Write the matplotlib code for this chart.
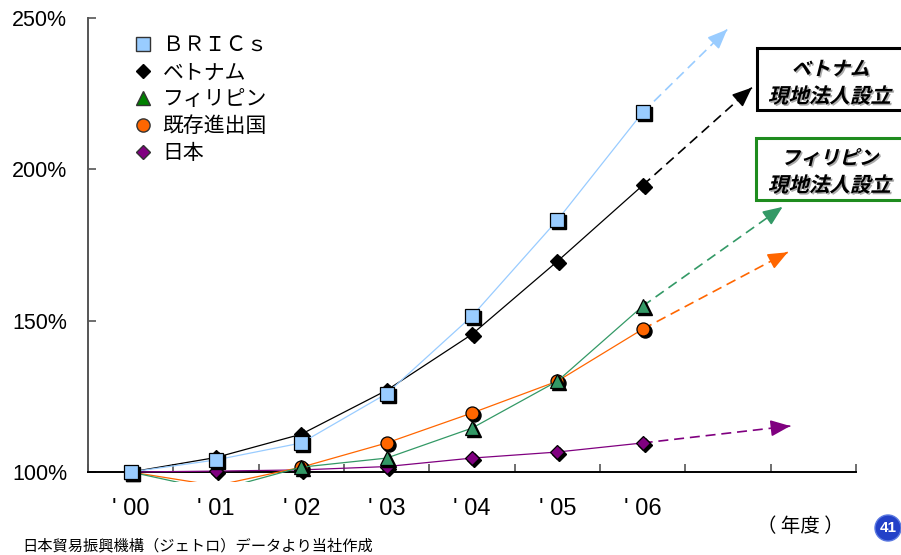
import matplotlib
matplotlib.use('Agg')
import matplotlib.pyplot as plt
from matplotlib.lines import Line2D
from matplotlib.patches import PathPatch, Rectangle, Circle
from matplotlib.textpath import TextPath
from matplotlib.font_manager import FontProperties
from matplotlib.transforms import Affine2D, ScaledTranslation

# fiscal years and growth index (2000 = 100%)
years = ["' 00", "' 01", "' 02", "' 03", "' 04", "' 05", "' 06"]
bric = [100, 104.0, 109.6, 125.9, 151.5, 183.2, 218.8]
vietnam = [100, 104.8, 112.5, 127.0, 145.5, 169.6, 194.7]
philippines = [100, 93.9, 101.6, 104.6, 114.5, 130.0, 154.8]
existing = [100, 95.5, 101.6, 109.6, 119.5, 130.0, 147.2]
japan = [100, 100.3, 100.7, 101.8, 104.6, 106.6, 109.6]

names = ['ＢＲＩＣｓ', 'ベトナム', 'フィリピン', '既存進出国', '日本']

# where the dashed trend arrows end (category position, value)
trend_x = [6.99, 7.28, 7.64, 7.70, 7.73]
trend_y = [246.2, 227.0, 187.6, 172.6, 115.2]

W, H = 901, 555
CJK = ['Noto Sans CJK JP', 'DejaVu Sans']

fig = plt.figure(figsize=(W / 100, H / 100), dpi=100)
ax = fig.add_axes([88 / W, 1 - 482 / H, 768 / W, 464 / H])

series = [
    (bric, '#99ccff', '#99ccff', 's', 9.4),
    (vietnam, 'black', 'black', 'D', 7.0),
    (philippines, '#339966', '#339966', '^', 10.5),
    (existing, '#ff6600', '#ff6600', 'o', 9.4),
    (japan, '#800080', '#800080', 'D', 7.0),
]

x = list(range(len(years)))
shadow = ax.transData + ScaledTranslation(2 / 100, -2 / 100, fig.dpi_scale_trans)

# draw from the back (Japan) to the front (BRICs)
for i in reversed(range(len(series))):
    vals, lc, fc, mk, ms = series[i]
    z = 10 + (len(series) - i) * 3
    # points under the 100% floor keep their line but lose the marker
    shown = [k for k, v in enumerate(vals) if v >= 100]
    ax.plot(x, vals, color=lc, lw=0.9, zorder=z)
    ax.plot(x, vals, linestyle='none', marker=mk, ms=ms, mfc='black',
            mec='black', markevery=shown, transform=shadow, zorder=z + 1)
    ax.plot(x, vals, linestyle='none', marker=mk, ms=ms, mfc=fc,
            mec='black', mew=0.9, markevery=shown, zorder=z + 2)

    # dashed projection with a filled head
    x0, y0 = x[-1], vals[-1]
    x1, y1 = trend_x[i], trend_y[i]
    ax.plot([x0, x1], [y0, y1], color=lc, lw=1.2, linestyle=(0, (6, 3.5)),
            zorder=z)
    f = 0.9
    ax.annotate('', xy=(x1, y1), xytext=(x0 + f * (x1 - x0), y0 + f * (y1 - y0)),
                arrowprops=dict(arrowstyle='-|>,head_length=1.2,head_width=0.5',
                                color=lc, lw=1.2, shrinkA=0, shrinkB=0),
                zorder=z)

ax.set_xlim(-0.5, 8.5)
ax.set_ylim(96.7, 250)

for side in ['top', 'right']:
    ax.spines[side].set_visible(False)
ax.spines['bottom'].set_position(('data', 100))
ax.spines['bottom'].set_linewidth(1.4)
ax.spines['left'].set_bounds(100, 250)
ax.spines['left'].set_color('#555555')
ax.spines['left'].set_linewidth(1.4)

ax.set_xticks(x)
ax.set_xticklabels(years, fontsize=17, family='Liberation Sans')
ax.set_xticks([k - 0.5 for k in range(10)], minor=True)
ax.tick_params(axis='x', which='major', length=0, pad=19)
ax.tick_params(axis='x', which='minor', direction='in', length=6,
               color='#555555', width=1.2)

ax.set_yticks([100, 150, 200, 250])
ax.set_yticklabels(['100%', '150%', '200%', '250%'], fontsize=15.5,
                   family='Liberation Sans')
ax.tick_params(axis='y', direction='in', length=6, color='#555555',
               width=1.2, pad=15)

# legend: markers only
handles = [
    Line2D([], [], linestyle='none', marker='s', ms=9.5, mfc='#99ccff', mec='#333333'),
    Line2D([], [], linestyle='none', marker='D', ms=7, mfc='black', mec='black'),
    Line2D([], [], linestyle='none', marker='^', ms=10.5, mfc='#008000', mec='#333333'),
    Line2D([], [], linestyle='none', marker='o', ms=9.5, mfc='#ff6600', mec='#333333'),
    Line2D([], [], linestyle='none', marker='D', ms=7, mfc='#800080', mec='#333333'),
]
ax.legend(handles, names, loc='upper left', bbox_to_anchor=(124 / W, 1 - 24 / H),
          bbox_transform=fig.transFigure, frameon=False, handlelength=0.8,
          handletextpad=0.55, labelspacing=0.24, borderpad=0,
          prop=FontProperties(family=CJK, size=15))


def slanted_text(s, cx, cy, size):
    prop = FontProperties(family='Noto Sans CJK JP', weight='bold')
    path = TextPath((0, 0), s, size=size, prop=prop)
    ext = path.get_extents()
    base = Affine2D().translate(-(ext.x0 + ext.x1) / 2,
                                -(ext.y0 + ext.y1) / 2).skew_deg(14, 0)
    for dx, dy, c, z in [(1.5, -1.5, '#aaaaaa', 30), (0, 0, 'black', 31)]:
        tr = base + Affine2D().translate(cx + dx, H - cy + dy)
        fig.add_artist(PathPatch(path, transform=tr, fc=c, ec='none', zorder=z))


# callout boxes for the local subsidiaries
fig.add_artist(Rectangle((757, H - 110), 160, 62, transform=Affine2D(),
                         fc='white', ec='black', lw=2.2, zorder=29))
slanted_text('ベトナム', 832, 68, 19.5)
slanted_text('現地法人設立', 831, 95, 20.5)

fig.add_artist(Rectangle((756, H - 200), 160, 62, transform=Affine2D(),
                         fc='white', ec='#1e8c1e', lw=2.2, zorder=29))
slanted_text('フィリピン', 832, 157, 19.5)
slanted_text('現地法人設立', 831, 184, 20.5)

fig.text(800 / W, 1 - 527 / H, '（ 年度 ）', ha='center', va='center',
         fontsize=14, family=CJK)
fig.text(22 / W, 1 - 546 / H, '日本貿易振興機構（ジェトロ）データより当社作成',
         ha='left', va='center', fontsize=11, family=CJK)

# page badge
fig.add_artist(Circle((888, H - 528), 13, transform=Affine2D(),
                      fc='#2341c8', ec='#5a78e0', lw=1))
fig.text(888 / W, 1 - 528 / H, '41', ha='center', va='center', color='white',
         fontsize=11, fontweight='bold', family='Liberation Sans')

fig.savefig('out.png', dpi=100)
